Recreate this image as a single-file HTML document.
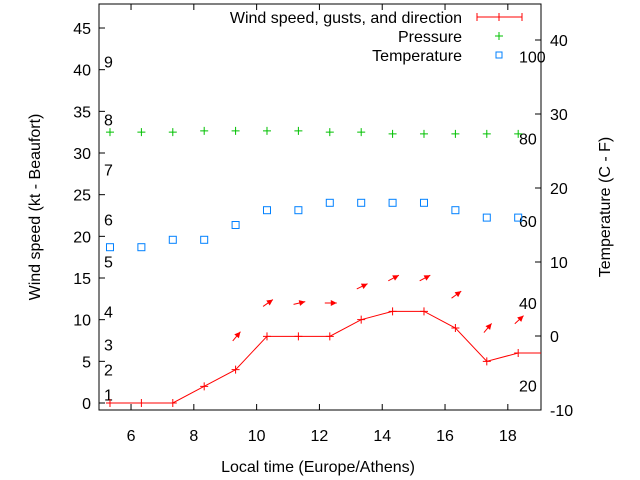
<!DOCTYPE html>
<html><head><meta charset="utf-8"><style>
body{margin:0;background:#fff}
svg{display:block;font-family:"Liberation Sans",sans-serif;font-size:16px}
</style></head><body>
<svg id="chart" width="640" height="480" viewBox="0 0 640 480"></svg>
<script>
const times=[5.33,6.33,7.33,8.33,9.33,10.33,11.33,12.33,13.33,14.33,15.33,16.33,17.33,18.33];
const wind=[0,0,0,2,4,8,8,8,10,11,11,9,5,6];
const pressure=[32.5,32.5,32.5,32.65,32.65,32.65,32.65,32.5,32.5,32.3,32.3,32.3,32.3,32.3];
const tempC=[12,12,13,13,15,17,17,18,18,18,18,17,16,16];
const arrowTimes=[9.33,10.33,11.33,12.33,13.33,14.33,15.33,16.33,17.33,18.33];
const gusts=[8,12,12,12,14,15,15,13,9,10];
const dirs=[50,35,13,0,26,28,28,36,50,43];
const yTicks=[0,5,10,15,20,25,30,35,40,45];
const y2Ticks=[-10,0,10,20,30,40];
const xTicks=[6,8,10,12,14,16,18];
const beaufortKt=[1,4,7,11,17,22,28,34,41];
const beaufortLab=["1","2","3","4","5","6","7","8","9"];
const fTicks=[20,40,60,80,100];

const L=99,R=541,T=4,B=410;
const X=t=>L+(t-4.98)*31.4;
const Y=v=>403-v*8.333;
const Y2=c=>336-c*7.4;
const svg=document.getElementById('chart');
const NS='http://www.w3.org/2000/svg';
function mk(tag,attrs,parent){const e=document.createElementNS(NS,tag);for(const k in attrs)e.setAttribute(k,attrs[k]);(parent||svg).appendChild(e);return e;}
function txt(x,y,s,anchor,name,extra){const e=mk('text',Object.assign({x:x,y:y,'text-anchor':anchor,fill:'#000'},extra||{}));e.textContent=s;


return e;}

const fr=mk('rect',{x:L,y:T,width:R-L,height:B-T,fill:'none',stroke:'#000','stroke-width':1});



yTicks.forEach(v=>{const y=Y(v);
 const t=mk('line',{x1:L,y1:y,x2:L+6,y2:y,stroke:'#000'});
 
 
 txt(91,y+6,String(v),'end','y-tick-label');});
y2Ticks.forEach(v=>{const y=Y2(v);
 const t=mk('line',{x1:R-6,y1:y,x2:R,y2:y,stroke:'#000'});
 
 
 txt(550,y+6,String(v),'start','y2-tick-label');});
xTicks.forEach(v=>{const x=X(v);
 const t=mk('line',{x1:x,y1:B,x2:x,y2:B-6,stroke:'#000'});
 
 
 const t2=mk('line',{x1:x,y1:T,x2:x,y2:T+6,stroke:'#000'});
 
 
 txt(x,441,String(v),'middle','x-tick-label');});

beaufortKt.forEach((k,i)=>txt(104,Y(k)+6,beaufortLab[i],'start','beaufort-label'));
fTicks.forEach(f=>txt(519,Y2((f-32)*5/9)+6,String(f),'start','fahrenheit-label'));

txt(318,472,'Local time (Europe/Athens)','middle','x-axis-title');
txt(0,0,'Wind speed (kt - Beaufort)','middle','y-axis-title',{transform:'translate(40,207) rotate(-90)'});
txt(0,0,'Temperature (C - F)','middle','y2-axis-title',{transform:'translate(610,207) rotate(-90)'});

let pts=times.map((t,i)=>X(t)+','+Y(wind[i])).join(' ')+' '+R+','+Y(wind[wind.length-1]);
const pl=mk('polyline',{points:pts,fill:'none',stroke:'#f00','stroke-width':1});


times.forEach((t,i)=>{const x=X(t),y=Y(wind[i]);
 const p=mk('path',{d:`M${x-4},${y}H${x+4}M${x},${y-4}V${y+4}`,stroke:'#f00','stroke-width':1});
 
 });

times.forEach((t,i)=>{const x=X(t),y=Y(pressure[i]);
 const p=mk('path',{d:`M${x-4},${y}H${x+4}M${x},${y-4}V${y+4}`,stroke:'#00c000','stroke-width':1});
 
 });

times.forEach((t,i)=>{const x=X(t),y=Y2(tempC[i]);
 const r=mk('rect',{x:x-3.5,y:y-3.5,width:7,height:7,fill:'none',stroke:'#0080ff','stroke-width':1});
 
 });

arrowTimes.forEach((t,i)=>{const cx=X(t)+1,cy=Y(gusts[i]);const a=dirs[i]*Math.PI/180;
 const dx=Math.cos(a)*6,dy=-Math.sin(a)*6;
 const x1=cx-dx,y1=cy-dy,x2=cx+dx,y2=cy+dy;
 const ux=Math.cos(a),uy=-Math.sin(a);
 const bx=x2-ux*6,by=y2-uy*6;
 const g=mk('g',{});
 
 
 mk('line',{x1:x1,y1:y1,x2:x2,y2:y2,stroke:'#f00','stroke-width':1},g);
 mk('polygon',{points:`${x2},${y2} ${bx-uy*3},${by+ux*3} ${bx+uy*3},${by-ux*3}`,fill:'#f00'},g);});

txt(462,23,'Wind speed, gusts, and direction','end','legend-wind-label');
const lw=mk('path',{d:'M477,17H522M477,13V21M499,13V21M522,13V21',stroke:'#f00'});


txt(462,42,'Pressure','end','legend-pressure-label');
const lp=mk('path',{d:'M495,36H503M499,32V40',stroke:'#00c000'});


txt(462,61,'Temperature','end','legend-temperature-label');
const lt=mk('rect',{x:496,y:52,width:6,height:6,fill:'none',stroke:'#0080ff'});


</script>
</body></html>
